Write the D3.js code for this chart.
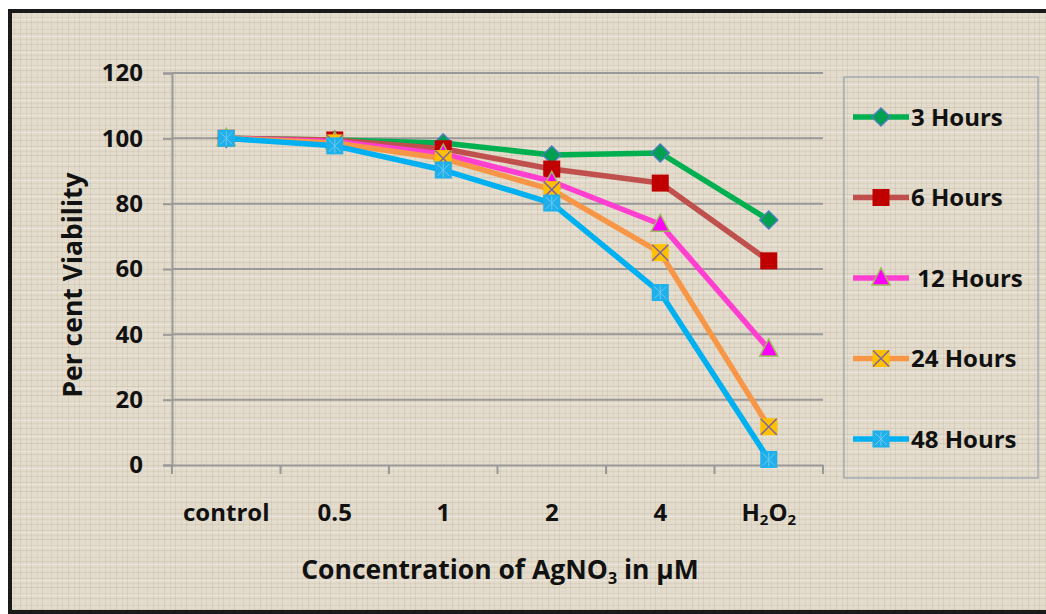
<!DOCTYPE html>
<html><head><meta charset="utf-8">
<script src="https://cdn.jsdelivr.net/npm/d3@7"></script>
<style>html,body{margin:0;padding:0;background:#fff;}svg{display:block;}</style>
</head><body>
<svg id="chart" width="1046" height="614"></svg>
<script>
const categories = ["control", "0.5", "1", "2", "4", "H2O2"];
const seriesNames = ["3 Hours", "6 Hours", " 12 Hours", "24 Hours", "48 Hours"];
const hours3  = [100, 99.5, 98.6, 94.9, 95.5, 75.0];
const hours6  = [100, 99.5, 96.8, 90.6, 86.3, 62.5];
const hours12 = [100, 99.0, 95.2, 86.8, 73.7, 35.5];
const hours24 = [100, 98.6, 93.8, 84.3, 65.0, 11.7];
const hours48 = [100, 97.7, 90.3, 80.2, 52.8, 1.7];
const yTicks = [0, 20, 40, 60, 80, 100, 120];

const seriesValues = [hours3, hours6, hours12, hours24, hours48];
const styles = [
  {line:"#00b050", fill:"#00a050", stroke:"#4a7ebb", shape:"diamond"},
  {line:"#c0504d", fill:"#c00000", stroke:"#c00000", shape:"square"},
  {line:"#ff3fd0", fill:"#ff00ff", stroke:"#9bbb59", shape:"triangle"},
  {line:"#f79646", fill:"#ffc000", stroke:"#8064a2", shape:"xsquare"},
  {line:"#00b0f0", fill:"#1fb0ec", stroke:"#6cc8f0", shape:"star"}
];

const svg = d3.select("#chart");
const defs = svg.append("defs");

// linen texture pattern
const pat = defs.append("pattern").attr("id","linen").attr("patternUnits","userSpaceOnUse")
  .attr("width",48).attr("height",48);
pat.append("rect").attr("width",48).attr("height",48).attr("fill","#e3dbcb");
const hl = [[2,0.12],[7,0.08],[11,0.14],[17,0.07],[22,0.12],[29,0.09],[33,0.13],[39,0.08],[44,0.11]];
hl.forEach(([y,o])=>pat.append("rect").attr("x",0).attr("y",y).attr("width",48).attr("height",1).attr("fill","#7a6a50").attr("opacity",o));
const vl = [[3,0.09],[9,0.12],[14,0.07],[20,0.13],[26,0.08],[31,0.11],[37,0.07],[42,0.12]];
vl.forEach(([x,o])=>pat.append("rect").attr("x",x).attr("y",0).attr("width",1).attr("height",48).attr("fill","#7a6a50").attr("opacity",o));
const hw = [[4,0.3],[19,0.25],[36,0.3]];
hw.forEach(([y,o])=>pat.append("rect").attr("x",0).attr("y",y).attr("width",48).attr("height",1).attr("fill","#fff").attr("opacity",o));

// frame
svg.append("rect").attr("x",10).attr("y",11).attr("width",1060).attr("height",601)
  .attr("fill","url(#linen)").attr("stroke","#1a1a1a").attr("stroke-width",4);

const x = d3.scaleBand().domain(categories).range([172, 823]);
const y = d3.scaleLinear().domain([0,120]).range([465, 73]);
const font = "'Open Sans', Lato, sans-serif";
const fs = "24px";
const fsTitle = "26.5px";

// gridlines
svg.append("g").selectAll("line").data(yTicks.filter(d=>d>0)).join("line")
  .attr("x1",172).attr("x2",823).attr("y1",d=>y(d)).attr("y2",d=>y(d))
  .attr("stroke","#999").attr("stroke-width",2);

// y axis
const yAxis = svg.append("g").attr("transform","translate(172,0)")
  .call(d3.axisLeft(y).tickValues(yTicks).tickSize(9).tickPadding(20));
yAxis.select(".domain").attr("stroke","#999").attr("stroke-width",2);
yAxis.selectAll(".tick line").attr("stroke","#999").attr("stroke-width",2);
yAxis.selectAll(".tick text").attr("font-family",font).attr("font-weight","bold")
  .attr("font-size",fs).attr("fill","#111");

// x axis
const xAxis = svg.append("g").attr("transform","translate(0,465)")
  .call(d3.axisBottom(x).tickSize(0).tickFormat(()=>""));
xAxis.select(".domain").attr("stroke","#999").attr("stroke-width",2);
const bounds = categories.map(c=>x(c)).concat([x.range()[1]]);
svg.append("g").selectAll("line").data(bounds).join("line")
  .attr("x1",d=>d).attr("x2",d=>d).attr("y1",465).attr("y2",474)
  .attr("stroke","#999").attr("stroke-width",2);
const xl = svg.append("g").selectAll("text").data(categories).join("text")
  .attr("x",d=>x(d)+x.bandwidth()/2).attr("y",521).attr("text-anchor","middle")
  .attr("font-family",font).attr("font-weight","bold").attr("font-size",fs).attr("fill","#111");
xl.each(function(d){
  const t = d3.select(this);
  if(d==="H2O2"){
    t.append("tspan").text("H");
    t.append("tspan").text("2").attr("font-size","15px").attr("dy",4);
    t.append("tspan").text("O").attr("dy",-4);
    t.append("tspan").text("2").attr("font-size","15px").attr("dy",4);
  } else t.text(d);
});

// axis titles
const xt = svg.append("text").attr("x",500).attr("y",579).attr("text-anchor","middle")
  .attr("font-family",font).attr("font-weight","bold").attr("font-size",fsTitle).attr("fill","#111");
xt.append("tspan").text("Concentration of AgNO");
xt.append("tspan").text("3").attr("font-size","16px").attr("dy",5);
xt.append("tspan").text(" in \u00b5M").attr("dy",-5);
svg.append("text").attr("transform","translate(82,285) rotate(-90)").attr("text-anchor","middle")
  .attr("font-family",font).attr("font-weight","bold").attr("font-size",fsTitle).attr("fill","#111")
  .text("Per cent Viability");

function drawMarker(g, s, cx, cy){
  const m = g.append("g").attr("transform",`translate(${cx},${cy})`);
  if(s.shape==="diamond"){
    m.append("path").attr("d","M0,-9L9,0L0,9L-9,0Z").attr("fill",s.fill).attr("stroke",s.stroke).attr("stroke-width",1.5);
  } else if(s.shape==="square"){
    m.append("rect").attr("x",-8.5).attr("y",-8.5).attr("width",17).attr("height",17).attr("fill",s.fill);
  } else if(s.shape==="triangle"){
    m.append("path").attr("d","M0,-10L9,7L-9,7Z").attr("fill",s.fill).attr("stroke",s.stroke).attr("stroke-width",1.5);
  } else if(s.shape==="xsquare"){
    m.append("rect").attr("x",-8.5).attr("y",-8.5).attr("width",17).attr("height",17).attr("fill",s.fill);
    m.append("path").attr("d","M-8,-8L8,8M8,-8L-8,8").attr("stroke",s.stroke).attr("stroke-width",1.5);
  } else {
    m.append("rect").attr("x",-8.5).attr("y",-8.5).attr("width",17).attr("height",17).attr("fill",s.fill);
    m.append("path").attr("d","M-6,-6L6,6M6,-6L-6,6M0,-7V7").attr("stroke",s.stroke).attr("stroke-width",1);
  }
}

const line = d3.line().x((d,i)=>x(categories[i])+x.bandwidth()/2).y(d=>y(d));
seriesValues.forEach((vals,k)=>{
  const s = styles[k];
  const g = svg.append("g");
  g.append("path").datum(vals).attr("d",line).attr("fill","none")
    .attr("stroke",s.line).attr("stroke-width",5.5).attr("stroke-linejoin","round");
  vals.forEach((v,i)=>drawMarker(g, s, x(categories[i])+x.bandwidth()/2, y(v)));
});

// legend
svg.append("rect").attr("x",844).attr("y",77).attr("width",194).attr("height",401)
  .attr("fill","none").attr("stroke","#a4acb4").attr("stroke-width",1.5);
const legY = d3.scalePoint().domain(seriesNames).range([117, 439]);
seriesNames.forEach((n,k)=>{
  const s = styles[k];
  const g = svg.append("g");
  const ly = legY(n);
  g.append("line").attr("x1",853).attr("x2",909).attr("y1",ly).attr("y2",ly)
    .attr("stroke",s.line).attr("stroke-width",5.5);
  drawMarker(g, s, 881, ly);
  g.append("text").attr("x",911).attr("y",ly+8.5).attr("xml:space","preserve")
    .attr("font-family",font).attr("font-weight","bold").attr("font-size",fs).attr("fill","#111")
    .style("white-space","pre").text(n);
});
</script>
</body></html>
